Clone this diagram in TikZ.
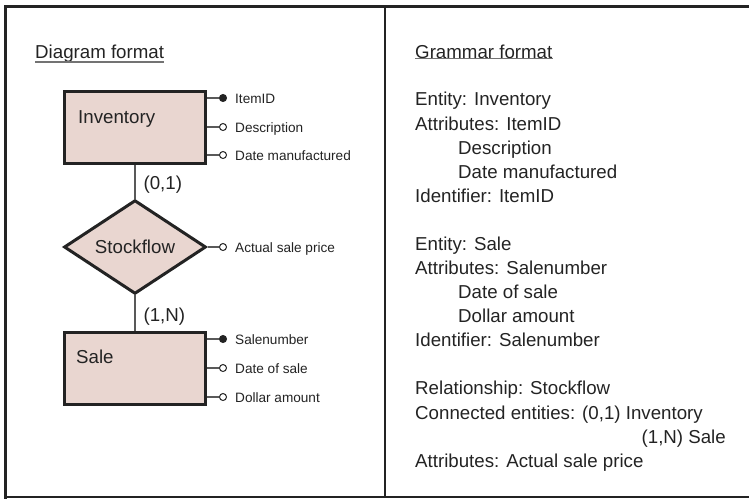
\documentclass[tikz,border=0pt]{standalone}
\usepackage{fontspec}
\setmainfont{Liberation Sans}
\usetikzlibrary{shapes.geometric}
\definecolor{boxpink}{RGB}{233,214,208}
\definecolor{ink}{RGB}{35,35,35}
\begin{document}
\begin{tikzpicture}[x=1pt,y=-1pt,
  every node/.style={text=ink},
  big/.style={font=\fontsize{18.7}{22}\selectfont},
  small/.style={font=\fontsize{13.6}{16}\selectfont},
  txt/.style={anchor=base west,inner sep=0},
  entity/.style={draw=ink,line width=3pt,fill=boxpink,minimum width=141pt,minimum height=72pt},
  rel/.style={diamond,draw=ink,line width=3pt,fill=boxpink,minimum width=142pt,minimum height=84pt,inner sep=0,big},
  link/.style={draw=black!65,line width=1.2pt},
  keydot/.style={circle,draw=ink,fill=ink,line width=1pt,minimum size=7pt,inner sep=0},
  attrdot/.style={circle,draw=ink,fill=white,line width=1pt,minimum size=7pt,inner sep=0}]
\useasboundingbox (0,0) rectangle (749,499);
% frame
\draw[ink,line width=3pt] (749,6) -- (5.5,6) -- (5.5,499);
\draw[ink,line width=1.5pt] (5.5,497) -- (749,497);
\draw[ink,line width=1.5pt] (385,6) -- (385,497);
% headings
\node[txt,big] (diag) at (35,58) {Diagram format};
\draw[black!55,line width=1.5pt] (diag.south west) -- (diag.south east);
\node[txt,big] (gram) at (415,58) {Grammar format};
\draw[black!55,line width=1.5pt] (gram.south west) -- (gram.south east);
% diagram
\node[entity] (inv) at (135,127.5) {};
\node[txt,big] (invname) at (78,123) {Inventory};
\node[rel] (flow) at (135,247) {Stockflow};
\node[entity] (sale) at (135,368) {};
\node[txt,big] (salename) at (76,363) {Sale};
\draw[link] (inv) -- (flow) node[midway,anchor=west,xshift=8pt,yshift=-3pt,inner sep=0,big] (card1) {(0,1)};
\draw[link] (flow) -- (sale) node[midway,anchor=west,xshift=8pt,yshift=-4pt,inner sep=0,big] (card2) {(1,N)};
\foreach \y/\lab/\kind [count=\n] in {98/ItemID/keydot,127/Description/attrdot,155/Date manufactured/attrdot}{
  \node[\kind] (ia\n) at (223,\y) {};
  \node[txt,small] (il\n) at (235,\y+5) {\lab};
  \draw[link] (inv.east |- ia\n) -- (ia\n);
}
\foreach \y/\lab/\kind [count=\n] in {339/Salenumber/keydot,368/Date of sale/attrdot,397/Dollar amount/attrdot}{
  \node[\kind] (sa\n) at (223,\y) {};
  \node[txt,small] (sl\n) at (235,\y+5) {\lab};
  \draw[link] (sale.east |- sa\n) -- (sa\n);
}
\node[attrdot] (fa1) at (223,247) {};
\node[txt,small] (fl1) at (235,252) {Actual sale price};
\draw[link] (flow.east) -- (fa1);
% grammar
\foreach \x/\y/\lab [count=\n] in {415/105/Entity: Inventory,415/130/Attributes: ItemID,458/154/Description,
  458/178/Date manufactured,415/202/Identifier: ItemID,415/250/Entity: Sale,415/274/Attributes: Salenumber,
  458/298/Date of sale,458/322/Dollar amount,415/346/Identifier: Salenumber,415/394/Relationship: Stockflow,
  415/419/{Connected entities: (0,1) Inventory},415/467/Attributes: Actual sale price}{
  \node[txt,big] (g\n) at (\x,\y) {\lab};
}
\node[big,anchor=base east,inner sep=0] (g14) at (726,443) {(1,N) Sale};
\end{tikzpicture}
\end{document}
